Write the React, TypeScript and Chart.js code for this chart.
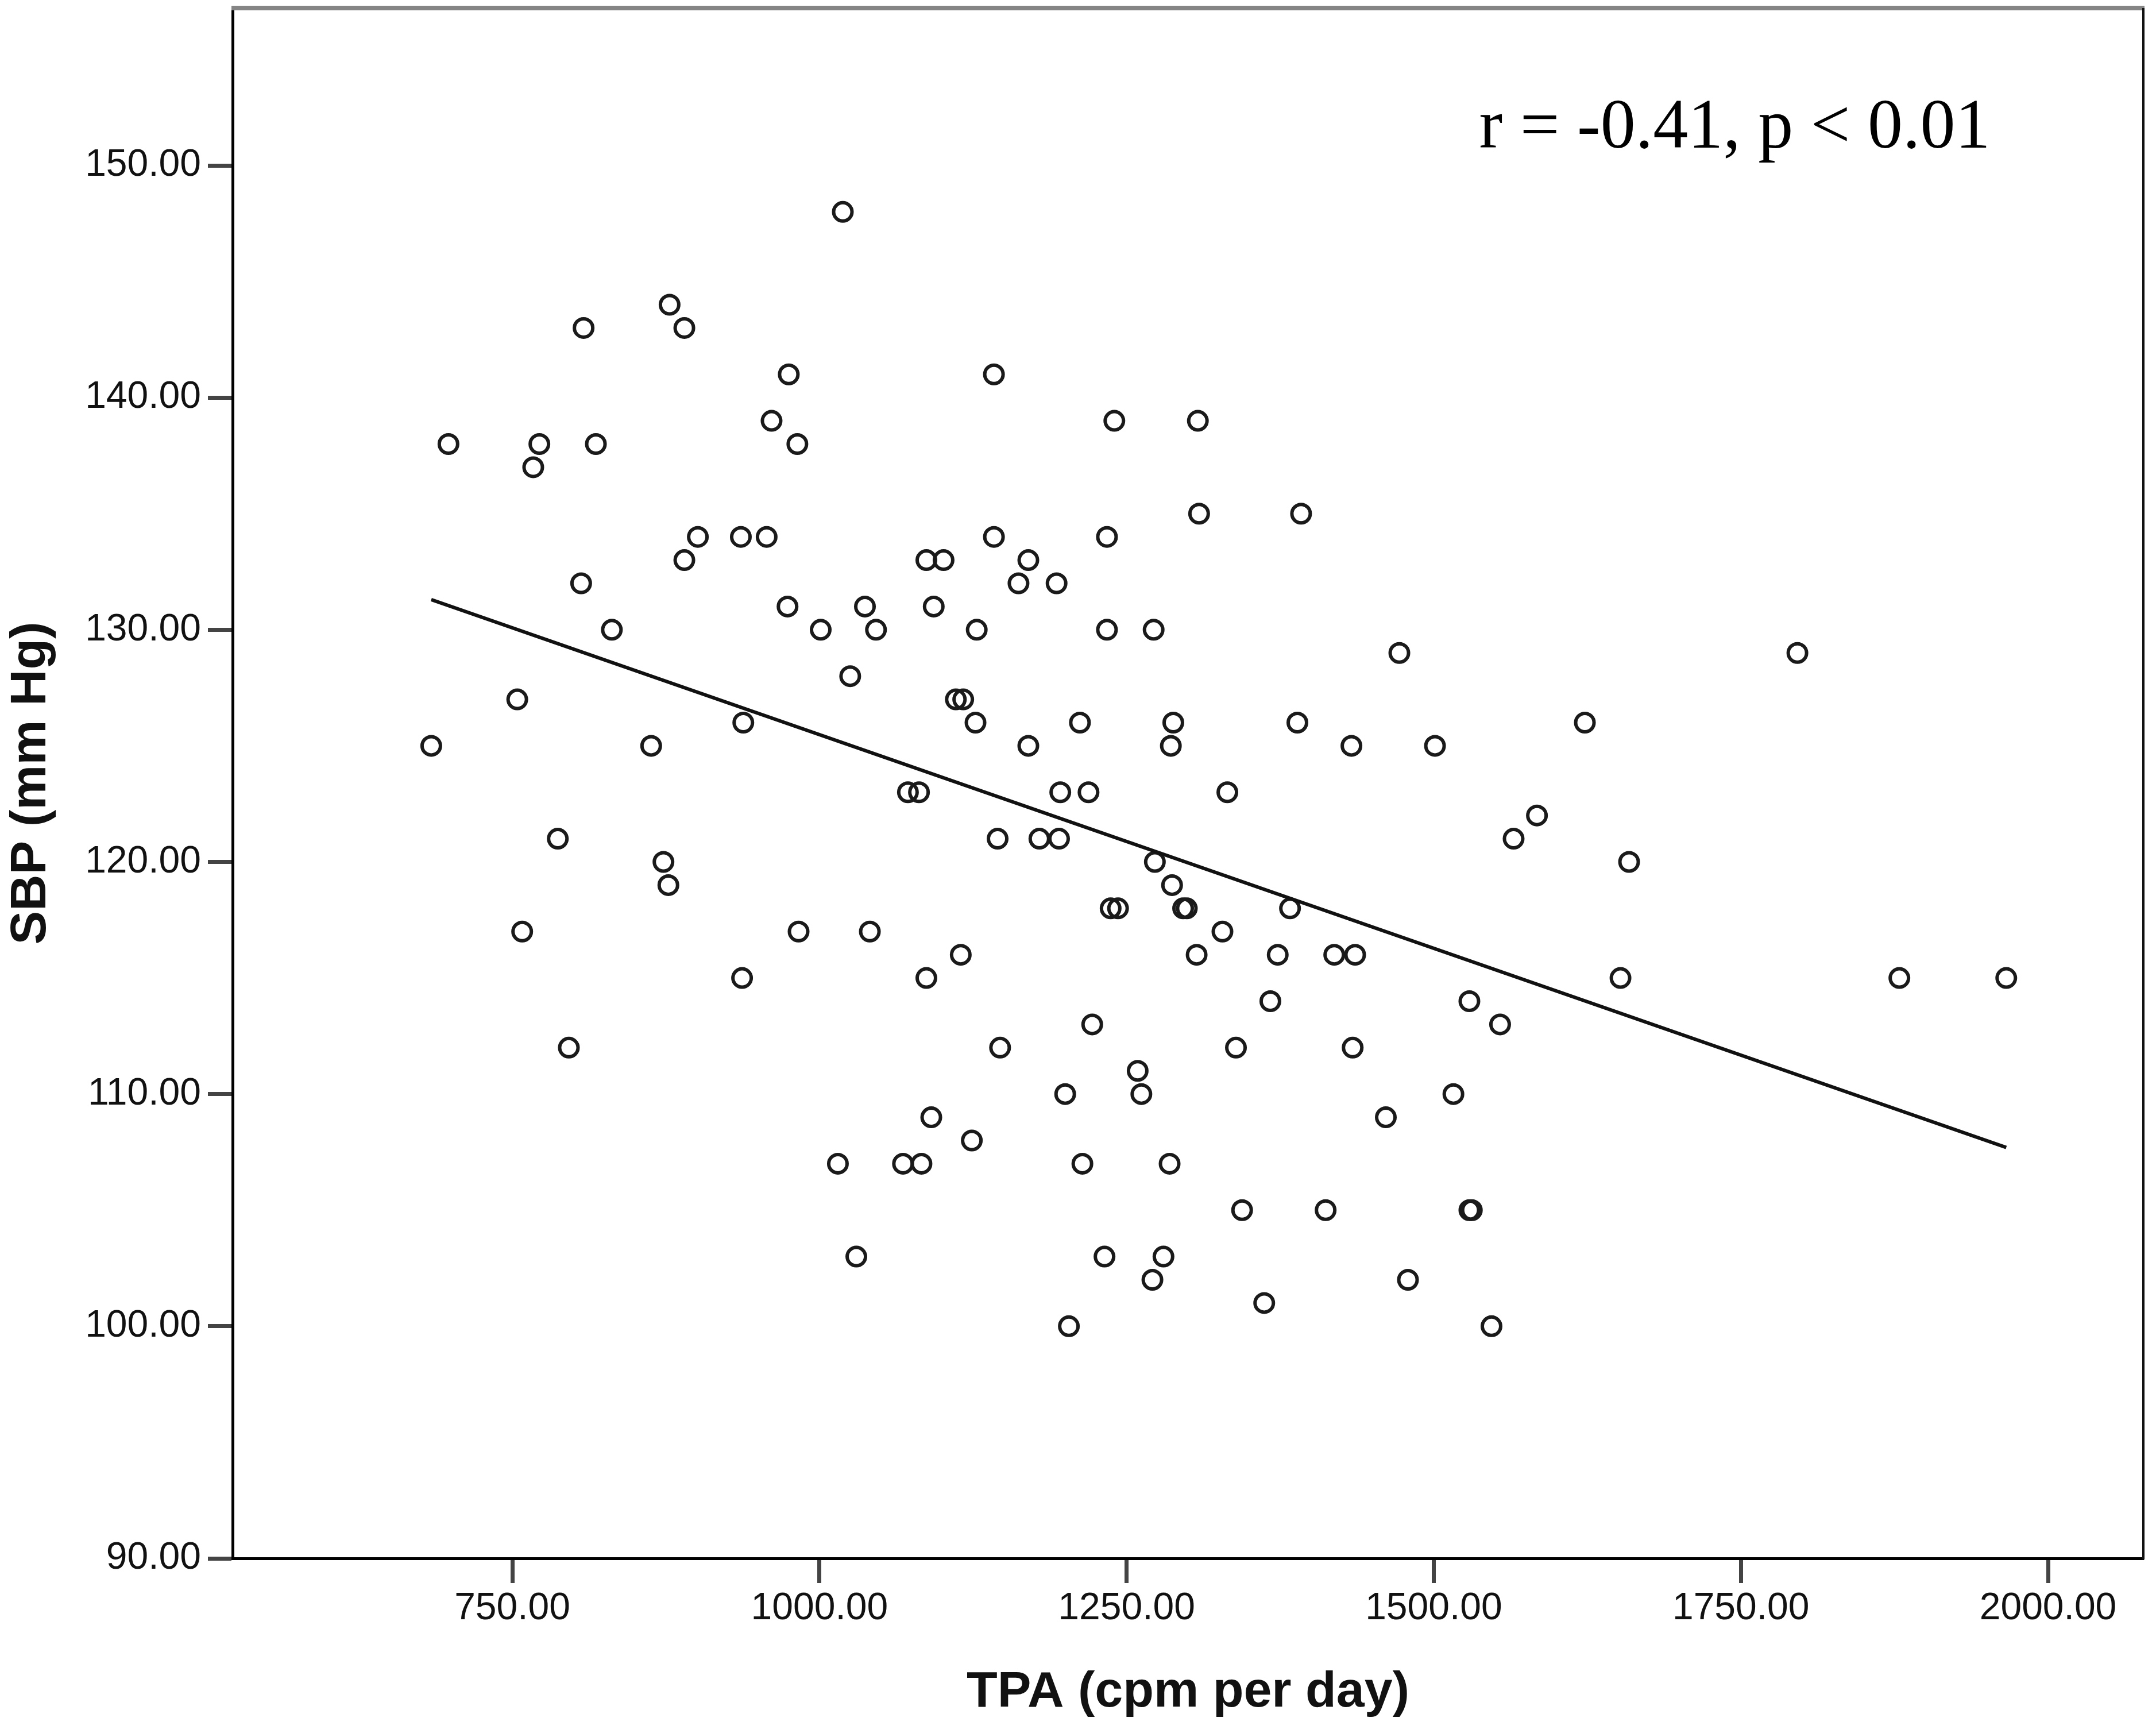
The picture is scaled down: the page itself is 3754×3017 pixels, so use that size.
import { useEffect, useRef } from "react"
import { Chart, registerables } from "chart.js"

Chart.register(...registerables)

// TPA (cpm per day) vs SBP (mm Hg)
const tpa = [
  684, 698, 754, 758, 767, 772, 787, 796, 806, 808, 818, 831, 863, 873, 877, 878, 890, 890, 901, 936,
  938, 937, 957, 961, 974, 975, 982, 983, 1001, 1015, 1019, 1025, 1030, 1037, 1041, 1046, 1068, 1072,
  1081, 1083, 1087, 1087, 1091, 1093, 1101, 1111, 1117, 1115, 1124, 1127, 1128, 1142, 1142, 1145, 1147,
  1162, 1170, 1170, 1179, 1193, 1195, 1196, 1200, 1203, 1212, 1214, 1219, 1222, 1232, 1234, 1234, 1237,
  1240, 1243, 1259, 1262, 1271, 1272, 1273, 1280, 1285, 1286, 1287, 1288, 1296, 1299, 1307, 1308, 1309,
  1328, 1332, 1339, 1344, 1362, 1367, 1373, 1383, 1389, 1392, 1412, 1419, 1433, 1434, 1436, 1461, 1472,
  1479, 1501, 1516, 1529, 1529, 1531, 1547, 1554, 1565, 1584, 1623, 1652, 1659, 1796, 1879, 1966,
]
const sbp = [
  125, 138, 127, 117, 137, 138, 121, 112, 132, 143, 138, 130, 125, 120, 119, 144, 143, 133, 134, 134,
  126, 115, 134, 139, 131, 141, 138, 117, 130, 107, 148, 128, 103, 131, 117, 130, 107, 123,
  123, 107, 133, 115, 109, 131, 133, 127, 127, 116, 108, 126, 130, 141, 134, 121, 112,
  132, 125, 133, 121, 132, 121, 123, 110, 100, 126, 107, 123, 113, 103, 134, 130, 118,
  139, 118, 111, 110, 102, 130, 120, 103, 107, 125, 119, 126, 118, 118, 116, 139, 135,
  117, 123, 112, 105, 101, 114, 116, 118, 126, 135, 105, 116, 125, 112, 116, 109, 129,
  102, 125, 110, 114, 105, 105, 100, 113, 121, 122, 126, 115, 120, 129, 115, 115,
]

// fit line end points
const fitTpa = [684, 1966]
const fitSbp = [131.3, 107.7]

const xTicks = [750, 1000, 1250, 1500, 1750, 2000]
const yTicks = [90, 100, 110, 120, 130, 140, 150]
const xRange = [522.3, 2077.6]
const yRange = [90, 156.78]

const xTitle = "TPA (cpm per day)"
const yTitle = "SBP (mm Hg)"
const statText = "r = -0.41, p < 0.01"
const statAt = { x: 1537, y: 150.77 }

const W = 3754
const H = 3017

const framePlugin = {
  id: "frame",
  afterDraw(chart: Chart) {
    const { ctx, chartArea } = chart
    const { left, right, top, bottom } = chartArea
    ctx.save()
    // top edge, grey
    ctx.strokeStyle = "#858585"
    ctx.lineWidth = 8
    ctx.beginPath()
    ctx.moveTo(left - 2, top)
    ctx.lineTo(right + 2, top)
    ctx.stroke()
    // right edge
    ctx.strokeStyle = "#111"
    ctx.lineWidth = 4
    ctx.beginPath()
    ctx.moveTo(right, top)
    ctx.lineTo(right, bottom + 2)
    ctx.stroke()
    // r / p annotation
    const xs = chart.scales.x
    const ys = chart.scales.y
    ctx.fillStyle = "#000"
    ctx.font = "122px 'Liberation Serif', 'Times New Roman', serif"
    ctx.textAlign = "left"
    ctx.textBaseline = "alphabetic"
    ctx.fillText(statText, xs.getPixelForValue(statAt.x), ys.getPixelForValue(statAt.y))
    ctx.restore()
  },
}

export default function App() {
  const chartRef = useRef<HTMLCanvasElement>(null)
  const chartInstance = useRef<Chart | null>(null)

  useEffect(() => {
    if (!chartRef.current) return
    const ctx = chartRef.current.getContext("2d")
    if (!ctx) return

    if (chartInstance.current) {
      chartInstance.current.destroy()
    }

    const tickFont = { family: "'Liberation Sans', Arial, sans-serif", size: 66 }
    const titleFont = { family: "'Liberation Sans', Arial, sans-serif", size: 88, weight: "bold" as const }

    chartInstance.current = new Chart(ctx, {
      type: "scatter",
      data: {
        datasets: [
          {
            label: "Fit",
            data: fitTpa.map((x, i) => ({ x, y: fitSbp[i] })),
            showLine: true,
            borderColor: "#111",
            borderWidth: 6,
            pointRadius: 0,
            fill: false,
          },
          {
            label: "SBP",
            data: tpa.map((x, i) => ({ x, y: sbp[i] })),
            showLine: false,
            pointStyle: "circle",
            pointRadius: 16,
            pointBorderWidth: 6,
            pointBorderColor: "#1a1a1a",
            pointBackgroundColor: "rgba(0,0,0,0)",
          },
        ],
      },
      options: {
        animation: false,
        responsive: false,
        devicePixelRatio: 1,
        layout: {
          autoPadding: false,
          padding: { left: 0, top: 14, right: W - 3732, bottom: 0 },
        },
        plugins: {
          legend: { display: false },
          tooltip: { enabled: false },
        },
        scales: {
          x: {
            type: "linear",
            min: xRange[0],
            max: xRange[1],
            afterBuildTicks: (scale) => {
              scale.ticks = xTicks.map((value) => ({ value }))
            },
            afterFit: (scale) => {
              scale.height = H - 2713
              scale.paddingLeft = 0
              scale.paddingRight = 0
            },
            ticks: {
              color: "#111",
              font: tickFont,
              padding: 5,
              maxRotation: 0,
              autoSkip: false,
              callback: (v) => Number(v).toFixed(2),
            },
            grid: {
              drawOnChartArea: false,
              drawTicks: true,
              tickLength: 43,
              tickWidth: 7,
              tickColor: "#444",
            },
            border: { display: true, color: "#000", width: 5 },
            title: {
              display: true,
              text: xTitle,
              color: "#111",
              font: titleFont,
              padding: { top: 0, bottom: 17 },
            },
          },
          y: {
            type: "linear",
            min: yRange[0],
            max: yRange[1],
            afterBuildTicks: (scale) => {
              scale.ticks = yTicks.map((value) => ({ value }))
            },
            afterFit: (scale) => {
              scale.width = 405
              scale.paddingTop = 0
              scale.paddingBottom = 0
            },
            ticks: {
              color: "#111",
              font: tickFont,
              padding: 12,
              autoSkip: false,
              callback: (v) => Number(v).toFixed(2),
            },
            grid: {
              drawOnChartArea: false,
              drawTicks: true,
              tickLength: 43,
              tickWidth: 7,
              tickColor: "#444",
            },
            border: { display: true, color: "#000", width: 5 },
            title: {
              display: true,
              text: yTitle,
              color: "#111",
              font: titleFont,
              padding: { top: 2, bottom: 0 },
            },
          },
        },
      },
      plugins: [framePlugin],
    })

    return () => {
      if (chartInstance.current) {
        chartInstance.current.destroy()
        chartInstance.current = null
      }
    }
  }, [])

  return (
    <div style={{ position: "fixed", left: 0, top: 0, width: W, height: H, background: "#fff" }}>
      <canvas ref={chartRef} width={W} height={H} style={{ width: W, height: H, display: "block" }} />
    </div>
  )
}
